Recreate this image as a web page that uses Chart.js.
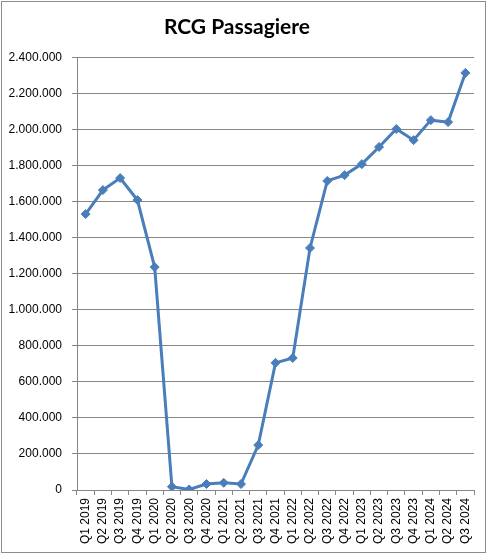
<!DOCTYPE html>
<html>
<head>
<meta charset="utf-8">
<script src="https://cdn.jsdelivr.net/npm/chart.js@4"></script>
<style>
  html, body { margin: 0; padding: 0; background: #fff; }
  #wrap { position: relative; width: 488px; height: 554px; }
</style>
</head>
<body>
<div id="wrap"><canvas id="chart" width="488" height="554"></canvas></div>
<script>
const quarters = ['Q1 2019', 'Q2 2019', 'Q3 2019', 'Q4 2019', 'Q1 2020', 'Q2 2020', 'Q3 2020', 'Q4 2020',
  'Q1 2021', 'Q2 2021', 'Q3 2021', 'Q4 2021', 'Q1 2022', 'Q2 2022', 'Q3 2022', 'Q4 2022',
  'Q1 2023', 'Q2 2023', 'Q3 2023', 'Q4 2023', 'Q1 2024', 'Q2 2024', 'Q3 2024'];
const passengers = [1530000, 1663000, 1730000, 1608000, 1236000, 18000, 3000, 33000,
  40000, 33000, 249000, 705000, 732000, 1342000, 1714000, 1746000,
  1807000, 1902000, 2002000, 1940000, 2051000, 2040000, 2313000];
const yMin = 0, yMax = 2400000, yStep = 200000;

const gridGray = '#868686';
const lineBlue = '#4a7ebb';
const tickFont = "'Liberation Sans', Arial, sans-serif";

function fmtDE(v) {
  return String(Math.round(v)).replace(/\B(?=(\d{3})+(?!\d))/g, '.');
}

// grey frame round the whole chart, like the spreadsheet chart box
const frame = {
  id: 'frame',
  afterDraw(chart) {
    const ctx = chart.ctx;
    ctx.save();
    ctx.strokeStyle = '#8c8c8c';
    ctx.lineWidth = 1;
    ctx.strokeRect(1.5, 1.5, 484, 551);
    ctx.restore();
  }
};

window.onload = function() {
  new Chart(document.getElementById('chart'), {
    type: 'line',
    data: {
      labels: quarters,
      datasets: [{
        label: 'RCG Passagiere',
        data: passengers,
        borderColor: lineBlue,
        backgroundColor: lineBlue,
        borderWidth: 3,
        tension: 0,
        pointStyle: 'rectRot',
        pointRadius: 4.5,
        pointBackgroundColor: lineBlue,
        pointBorderColor: lineBlue,
        pointBorderWidth: 1
      }]
    },
    options: {
      responsive: false,
      animation: false,
      layout: { padding: { left: 0, right: 14, top: 0, bottom: 0 } },
      plugins: {
        legend: { display: false },
        tooltip: { enabled: false },
        title: {
          display: true,
          text: 'RCG Passagiere',
          color: '#000',
          font: { family: 'Lato', size: 21, weight: 'bold', lineHeight: 1.2 },
          padding: { top: 15, bottom: 17 }
        }
      },
      scales: {
        x: {
          offset: true,
          grid: {
            offset: true,
            drawOnChartArea: false,
            drawTicks: true,
            tickLength: 5,
            color: gridGray
          },
          border: { color: gridGray, width: 1 },
          ticks: {
            color: '#000',
            font: { family: tickFont, size: 12 },
            maxRotation: 90,
            minRotation: 90,
            autoSkip: false,
            padding: 3
          },
          afterFit(scale) { scale.height = 64; }
        },
        y: {
          min: yMin,
          max: yMax,
          grid: {
            color: gridGray,
            drawTicks: true,
            tickLength: 5
          },
          border: { color: gridGray, width: 1 },
          ticks: {
            stepSize: yStep,
            color: '#000',
            font: { family: tickFont, size: 12 },
            padding: 10,
            callback: v => fmtDE(v)
          },
          afterFit(scale) { scale.width = 77; }
        }
      }
    },
    plugins: [frame]
  });
};
</script>
</body>
</html>
